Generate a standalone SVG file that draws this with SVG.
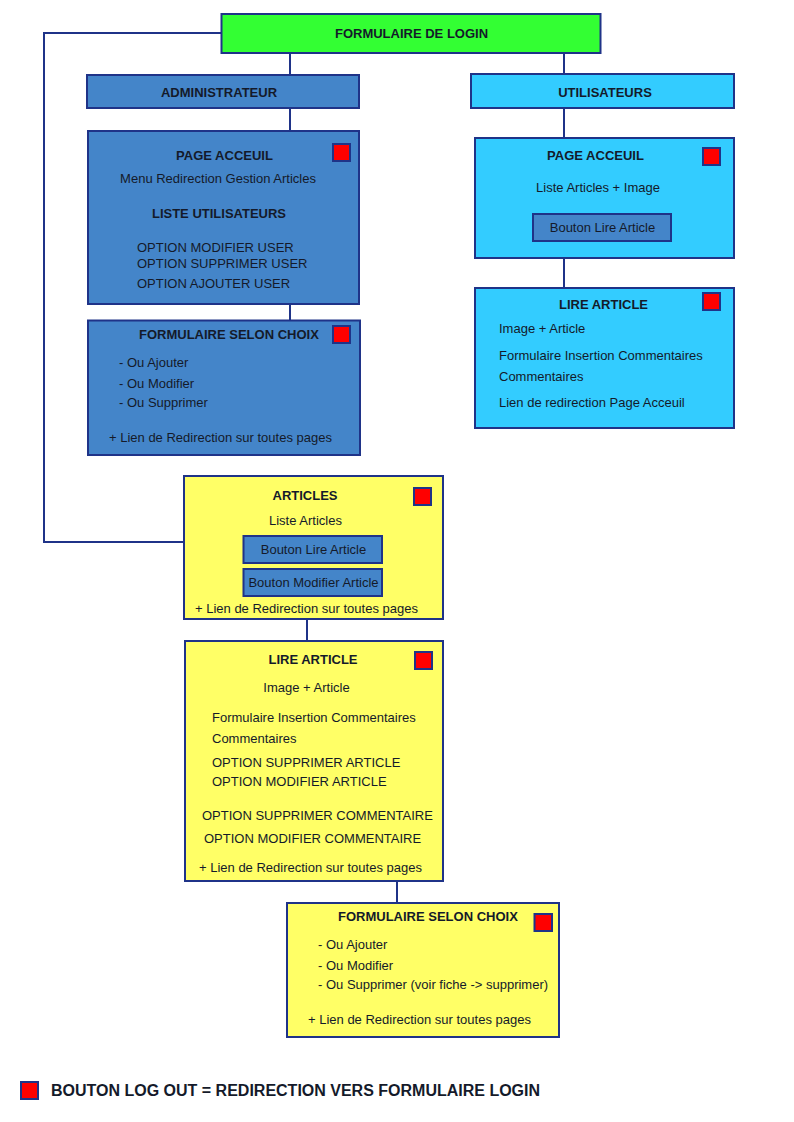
<svg xmlns="http://www.w3.org/2000/svg" width="794" height="1122" viewBox="0 0 794 1122">
<style>
.bx{stroke:#1F3388;stroke-width:2}
.g{fill:#33FF33}.a{fill:#4485C9}.u{fill:#33CCFF}.y{fill:#FFFF66}.r{fill:#FF0000}
text{font-family:"Liberation Sans",Arial,sans-serif;font-size:13px;fill:#141a2a}
.b{font-weight:bold}.m{text-anchor:middle}
.ln{stroke:#1F3388;stroke-width:2;fill:none}
</style>
<rect width="794" height="1122" fill="#FFFFFF"/>
<g id="connectors">
<polyline class="ln" points="221,33 44,33 44,542 184,542"/>
<line class="ln" x1="290" y1="53" x2="290" y2="75"/>
<line class="ln" x1="290" y1="108" x2="290" y2="131"/>
<line class="ln" x1="290" y1="304" x2="290" y2="320"/>
<line class="ln" x1="564" y1="53" x2="564" y2="74"/>
<line class="ln" x1="564" y1="108" x2="564" y2="138"/>
<line class="ln" x1="564" y1="258" x2="564" y2="288"/>
<line class="ln" x1="307" y1="619" x2="307" y2="641"/>
<line class="ln" x1="397" y1="881" x2="397" y2="903"/>
</g>
<g id="login">
<rect class="bx g" x="221.5" y="14" width="379" height="39"/>
<text class="b m" x="411.5" y="38">FORMULAIRE DE LOGIN</text>
</g>
<g id="admin">
<rect class="bx a" x="87" y="75" width="272" height="33"/>
<text class="b m" x="219" y="97">ADMINISTRATEUR</text>
</g>
<g id="admin-accueil">
<rect class="bx a" x="88" y="131" width="271" height="173"/>
<rect class="bx r" x="333" y="144" width="17" height="17"/>
<text class="b m" x="224.5" y="160">PAGE ACCEUIL</text>
<text class="m" x="218" y="183">Menu Redirection Gestion Articles</text>
<text class="b m" x="219" y="217.5">LISTE UTILISATEURS</text>
<text x="137" y="252">OPTION MODIFIER USER</text>
<text x="137" y="268">OPTION SUPPRIMER USER</text>
<text x="137" y="288">OPTION AJOUTER USER</text>
</g>
<g id="admin-formulaire">
<rect class="bx a" x="88" y="320.5" width="272" height="134.5"/>
<rect class="bx r" x="333" y="326" width="17" height="17"/>
<text class="b" x="139" y="339">FORMULAIRE SELON CHOIX</text>
<text x="119" y="367">- Ou Ajouter</text>
<text x="119" y="388">- Ou Modifier</text>
<text x="119" y="407">- Ou Supprimer</text>
<text x="109" y="442">+ Lien de Redirection sur toutes pages</text>
</g>
<g id="utilisateurs">
<rect class="bx u" x="471" y="74" width="263" height="34"/>
<text class="b m" x="605" y="97">UTILISATEURS</text>
</g>
<g id="user-accueil">
<rect class="bx u" x="475" y="138" width="259" height="120"/>
<rect class="bx r" x="703" y="148" width="17" height="17"/>
<text class="b m" x="595.5" y="160">PAGE ACCEUIL</text>
<text class="m" x="598" y="192">Liste Articles + Image</text>
<rect class="bx a" x="533" y="214" width="138" height="27"/>
<text class="m" x="602.5" y="232">Bouton Lire Article</text>
</g>
<g id="user-lire">
<rect class="bx u" x="475" y="288" width="259" height="140"/>
<rect class="bx r" x="703" y="293" width="17" height="17"/>
<text class="b m" x="603.5" y="309">LIRE ARTICLE</text>
<text x="499" y="333">Image + Article</text>
<text x="499" y="360">Formulaire Insertion Commentaires</text>
<text x="499" y="381">Commentaires</text>
<text x="499" y="407">Lien de redirection Page Acceuil</text>
</g>
<g id="articles">
<rect class="bx y" x="184" y="476" width="259" height="143"/>
<rect class="bx r" x="414" y="488" width="17" height="17"/>
<text class="b m" x="305" y="500">ARTICLES</text>
<text class="m" x="305.5" y="525">Liste Articles</text>
<rect class="bx a" x="243.5" y="536" width="138.5" height="27"/>
<text class="m" x="313.5" y="554">Bouton Lire Article</text>
<rect class="bx a" x="243.5" y="569" width="138.5" height="27"/>
<text class="m" x="313.5" y="587">Bouton Modifier Article</text>
<text x="195" y="613">+ Lien de Redirection sur toutes pages</text>
</g>
<g id="admin-lire">
<rect class="bx y" x="185" y="641" width="258" height="240"/>
<rect class="bx r" x="415" y="652" width="17" height="17"/>
<text class="b m" x="313" y="664">LIRE ARTICLE</text>
<text class="m" x="306.5" y="692">Image + Article</text>
<text x="212" y="722">Formulaire Insertion Commentaires</text>
<text x="212" y="743">Commentaires</text>
<text x="212" y="767">OPTION SUPPRIMER ARTICLE</text>
<text x="212" y="786">OPTION MODIFIER ARTICLE</text>
<text x="202" y="820">OPTION SUPPRIMER COMMENTAIRE</text>
<text x="204" y="843">OPTION MODIFIER COMMENTAIRE</text>
<text x="199" y="872">+ Lien de Redirection sur toutes pages</text>
</g>
<g id="article-formulaire">
<rect class="bx y" x="287" y="903" width="272" height="134"/>
<rect class="bx r" x="534.5" y="914" width="17.5" height="17"/>
<text class="b" x="338" y="921">FORMULAIRE SELON CHOIX</text>
<text x="318" y="949">- Ou Ajouter</text>
<text x="318" y="970">- Ou Modifier</text>
<text x="318" y="989">- Ou Supprimer (voir fiche -&gt; supprimer)</text>
<text x="308" y="1024">+ Lien de Redirection sur toutes pages</text>
</g>
<g id="legend">
<rect class="bx r" x="21" y="1082" width="17" height="17"/>
<text class="b" x="51" y="1096" style="font-size:16px">BOUTON LOG OUT = REDIRECTION VERS FORMULAIRE LOGIN</text>
</g>
</svg>
